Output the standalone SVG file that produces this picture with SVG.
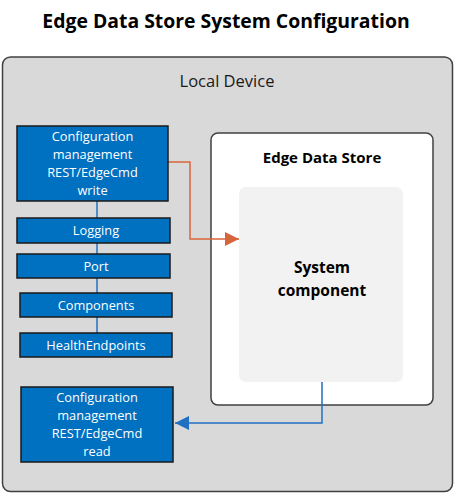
<svg xmlns="http://www.w3.org/2000/svg" width="455" height="493" viewBox="0 0 455 493">
<defs>
<style>
.t{font-family:"Open Sans","Noto Sans",sans-serif;text-anchor:middle}
.w{fill:#ffffff;font-size:12.8px}
.blue{fill:#0070c0;stroke:#1a1a1a;stroke-width:1.5}
</style>
<marker id="ao" viewBox="0 0 10 10" refX="10" refY="5" markerWidth="14" markerHeight="14" markerUnits="userSpaceOnUse" orient="auto"><path d="M0,0 L10,5 L0,10 Z" fill="#d8643c"/></marker>
<marker id="ab" viewBox="0 0 10 10" refX="10" refY="5" markerWidth="14" markerHeight="14" markerUnits="userSpaceOnUse" orient="auto"><path d="M0,0 L10,5 L0,10 Z" fill="#1f70c1"/></marker>
</defs>
<rect width="455" height="493" fill="#ffffff"/>
<text class="t" x="226" y="28" font-size="19.4" font-weight="bold" fill="#000">Edge Data Store System Configuration</text>
<g id="local-device">
<rect x="2.5" y="57" width="450" height="434.5" rx="8" fill="#d9d9d9" stroke="#404040" stroke-width="1.5"/>
<text class="t" x="227" y="87" font-size="16.5" fill="#1a1a1a">Local Device</text>
</g>
<g id="eds">
<rect x="211" y="133" width="222" height="272" rx="7" fill="#ffffff" stroke="#404040" stroke-width="1.5"/>
<text class="t" x="322" y="163" font-size="15" font-weight="bold" fill="#000">Edge Data Store</text>
</g>
<g id="system-component">
<rect x="239" y="187" width="164" height="195" rx="7" fill="#f2f2f2"/>
<text class="t" x="322" y="273" font-size="15.5" font-weight="bold" fill="#000">System</text>
<text class="t" x="322" y="296" font-size="15.5" font-weight="bold" fill="#000">component</text>
</g>
<g id="connectors" fill="none">
<path d="M97,201 V357" stroke="#1f70c1" stroke-width="1.5"/>
<path d="M168,162 H190 V239 H239" stroke="#d8643c" stroke-width="1.5" marker-end="url(#ao)"/>
<path d="M322,382 V423 H175" stroke="#1f70c1" stroke-width="1.5" marker-end="url(#ab)"/>
</g>
<g id="config-write">
<rect class="blue" x="17" y="126" width="151" height="75"/>
<text class="t w" x="92.5" y="141">Configuration</text>
<text class="t w" x="92.5" y="159">management</text>
<text class="t w" x="92.5" y="177">REST/EdgeCmd</text>
<text class="t w" x="92.5" y="195">write</text>
</g>
<g id="logging">
<rect class="blue" x="17" y="218" width="153" height="25"/>
<text class="t w" x="96" y="235">Logging</text>
</g>
<g id="port">
<rect class="blue" x="17" y="254" width="153" height="24"/>
<text class="t w" x="96" y="271">Port</text>
</g>
<g id="components">
<rect class="blue" x="20" y="293" width="152" height="24"/>
<text class="t w" x="96" y="310">Components</text>
</g>
<g id="health">
<rect class="blue" x="20" y="333" width="152" height="24"/>
<text class="t w" x="96" y="350">HealthEndpoints</text>
</g>
<g id="config-read">
<rect class="blue" x="21" y="387" width="152" height="75"/>
<text class="t w" x="97" y="402">Configuration</text>
<text class="t w" x="97" y="420">management</text>
<text class="t w" x="97" y="438">REST/EdgeCmd</text>
<text class="t w" x="97" y="456">read</text>
</g>
</svg>
